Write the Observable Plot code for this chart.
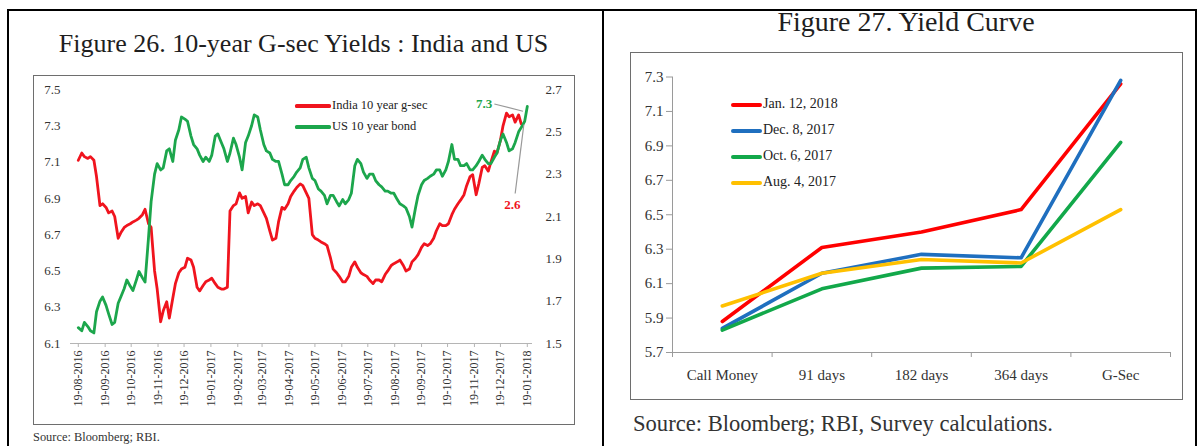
<!DOCTYPE html>
<html>
<head>
<meta charset="utf-8">
<script src="https://cdn.jsdelivr.net/npm/d3@7"></script>
<script src="https://cdn.jsdelivr.net/npm/@observablehq/plot@0.6"></script>
<style>
  html, body { margin: 0; padding: 0; background: #fff; }
  body { width: 1201px; height: 446px; position: relative; overflow: hidden; font-family: "Liberation Serif", serif; color: #222; }
  .bar { position: absolute; background: #000; }
  .frame { position: absolute; border: 1.5px solid #6e6e6e; box-sizing: border-box; }
  .title { position: absolute; line-height: 26px; white-space: nowrap; text-align: center; color: #1e1e1e; }
  .src { position: absolute; white-space: nowrap; color: #333; line-height: 1; }
  .sw { position: absolute; }
  .lg { position: absolute; white-space: nowrap; line-height: 1; color: #222; }
  svg.chart { position: absolute; overflow: visible; }
</style>
</head>
<body>
<div class="bar" style="left:7px;top:9px;width:1190px;height:2px"></div>
<div class="bar" style="left:7px;top:9px;width:2px;height:437px"></div>
<div class="bar" style="left:602px;top:9px;width:2px;height:437px"></div>
<div class="bar" style="left:1195px;top:9px;width:2px;height:437px"></div>

<div class="title" style="left:33px;top:31px;width:541px;font-size:26px">Figure 26. 10-year G-sec Yields : India and US</div>
<div class="title" style="left:630px;top:9px;width:552px;font-size:28px">Figure 27. Yield Curve</div>

<div class="frame" style="left:33px;top:75px;width:542px;height:350px"></div>
<div class="frame" style="left:630px;top:52px;width:553px;height:348px"></div>

<div class="src" style="left:33px;top:431px;font-size:12.4px">Source: Bloomberg; RBI.</div>
<div class="src" style="left:633px;top:413px;font-size:22.6px">Source: Bloomberg; RBI, Survey calculations.</div>

<div id="legendLeft"></div>
<div id="legendRight"></div>

<script>
// ---------- Figure 26 data (observations twice a week) ----------
const obsDates = [
  "2016-08-19","2016-08-23","2016-08-26","2016-08-30","2016-09-02","2016-09-06","2016-09-09","2016-09-13","2016-09-16","2016-09-20",
  "2016-09-23","2016-09-27","2016-09-30","2016-10-04","2016-10-07","2016-10-11","2016-10-14","2016-10-18","2016-10-21","2016-10-25",
  "2016-10-28","2016-11-01","2016-11-04","2016-11-08","2016-11-11","2016-11-15","2016-11-18","2016-11-22","2016-11-25","2016-11-29",
  "2016-12-02","2016-12-06","2016-12-09","2016-12-13","2016-12-16","2016-12-20","2016-12-23","2016-12-27","2016-12-30","2017-01-03",
  "2017-01-06","2017-01-10","2017-01-13","2017-01-17","2017-01-20","2017-01-24","2017-01-27","2017-01-31","2017-02-03","2017-02-07",
  "2017-02-10","2017-02-14","2017-02-17","2017-02-21","2017-02-24","2017-02-28","2017-03-03","2017-03-07","2017-03-10","2017-03-14",
  "2017-03-17","2017-03-21","2017-03-24","2017-03-28","2017-03-31","2017-04-04","2017-04-07","2017-04-11","2017-04-14","2017-04-18",
  "2017-04-21","2017-04-25","2017-04-28","2017-05-02","2017-05-05","2017-05-09","2017-05-12","2017-05-16","2017-05-19","2017-05-23",
  "2017-05-26","2017-05-30","2017-06-02","2017-06-06","2017-06-09","2017-06-13","2017-06-16","2017-06-20","2017-06-23","2017-06-27",
  "2017-06-30","2017-07-04","2017-07-07","2017-07-11","2017-07-14","2017-07-18","2017-07-21","2017-07-25","2017-07-28","2017-08-01",
  "2017-08-04","2017-08-08","2017-08-11","2017-08-15","2017-08-18","2017-08-22","2017-08-25","2017-08-29","2017-09-01","2017-09-05",
  "2017-09-08","2017-09-12","2017-09-15","2017-09-19","2017-09-22","2017-09-26","2017-09-29","2017-10-03","2017-10-06","2017-10-10",
  "2017-10-13","2017-10-17","2017-10-20","2017-10-24","2017-10-27","2017-10-31","2017-11-03","2017-11-07","2017-11-10","2017-11-14",
  "2017-11-17","2017-11-21","2017-11-24","2017-11-28","2017-12-01","2017-12-05","2017-12-08","2017-12-12","2017-12-15","2017-12-19",
  "2017-12-22","2017-12-26","2017-12-29","2018-01-02","2018-01-05","2018-01-09","2018-01-12","2018-01-16","2018-01-19"
];
// India 10 year g-sec (left axis), through 2018-01-12
const indiaYield = [
  7.11, 7.15, 7.13, 7.12, 7.13, 7.11, 7.02, 6.86, 6.87, 6.85,
  6.82, 6.83, 6.80, 6.68, 6.71, 6.74, 6.75, 6.76, 6.77, 6.78,
  6.79, 6.81, 6.84, 6.76, 6.74, 6.50, 6.40, 6.22, 6.28, 6.33,
  6.24, 6.35, 6.43, 6.49, 6.51, 6.52, 6.57, 6.56, 6.52, 6.41,
  6.39, 6.42, 6.44, 6.45, 6.46, 6.43, 6.41, 6.40, 6.40, 6.41,
  6.83, 6.86, 6.87, 6.93, 6.90, 6.91, 6.82, 6.88, 6.86, 6.87,
  6.86, 6.82, 6.79, 6.72, 6.67, 6.68, 6.77, 6.85, 6.84, 6.87,
  6.91, 6.94, 6.96, 6.98, 6.97, 6.93, 6.90, 6.70, 6.68, 6.67,
  6.66, 6.65, 6.64, 6.57, 6.51, 6.49, 6.47, 6.44, 6.44, 6.47,
  6.52, 6.55, 6.52, 6.49, 6.48, 6.47, 6.45, 6.43, 6.45, 6.45,
  6.44, 6.48, 6.50, 6.53, 6.54, 6.55, 6.56, 6.53, 6.50, 6.51,
  6.55, 6.57, 6.59, 6.63, 6.65, 6.64, 6.65, 6.68, 6.72, 6.76,
  6.75, 6.75, 6.76, 6.81, 6.84, 6.87, 6.89, 6.92, 6.97, 7.02,
  7.03, 6.92, 6.98, 7.07, 7.08, 7.05, 7.10, 7.16, 7.15, 7.22,
  7.30, 7.37, 7.35, 7.36, 7.32, 7.36, 7.31
];
// US 10 year bond (right axis), through 2018-01-19
const usYield = [
  1.575, 1.56, 1.60, 1.58, 1.56, 1.55, 1.65, 1.70, 1.72, 1.68,
  1.64, 1.59, 1.60, 1.69, 1.72, 1.76, 1.80, 1.77, 1.75, 1.80,
  1.84, 1.81, 1.79, 2.00, 2.17, 2.30, 2.35, 2.32, 2.33, 2.41,
  2.42, 2.36, 2.46, 2.51, 2.57, 2.56, 2.55, 2.48, 2.44, 2.42,
  2.39, 2.36, 2.38, 2.36, 2.39, 2.48, 2.49, 2.45, 2.42, 2.36,
  2.40, 2.47, 2.44, 2.38, 2.32, 2.45, 2.48, 2.53, 2.58, 2.57,
  2.51, 2.44, 2.41, 2.40, 2.37, 2.36, 2.36, 2.30, 2.25, 2.25,
  2.27, 2.29, 2.31, 2.33, 2.37, 2.38, 2.33, 2.28, 2.27, 2.23,
  2.22, 2.20, 2.16, 2.20, 2.20, 2.17, 2.15, 2.18, 2.16, 2.18,
  2.21, 2.34, 2.37, 2.35, 2.31, 2.28, 2.30, 2.30, 2.27, 2.25,
  2.24, 2.22, 2.22, 2.21, 2.21, 2.18, 2.16, 2.15, 2.14, 2.10,
  2.05, 2.14, 2.20, 2.25, 2.27, 2.28, 2.29, 2.30, 2.32, 2.32,
  2.29, 2.32, 2.36, 2.44, 2.37, 2.37, 2.34, 2.34, 2.35, 2.32,
  2.32, 2.34, 2.36, 2.39, 2.37, 2.35, 2.35, 2.38, 2.40, 2.46,
  2.49, 2.45, 2.41, 2.42, 2.45, 2.50, 2.52, 2.55, 2.62
];
const xTickLabels = [
  "19-08-2016","19-09-2016","19-10-2016","19-11-2016","19-12-2016","19-01-2017","19-02-2017","19-03-2017","19-04-2017",
  "19-05-2017","19-06-2017","19-07-2017","19-08-2017","19-09-2017","19-10-2017","19-11-2017","19-12-2017","19-01-2018"
];
const indiaTicks = [6.1, 6.3, 6.5, 6.7, 6.9, 7.1, 7.3, 7.5];
const usTicks = [1.5, 1.7, 1.9, 2.1, 2.3, 2.5, 2.7];
const seriesNames26 = ["India 10 year g-sec", "US 10 year bond"];
const colors26 = ["#f0141e", "#1ca64c"];

// ---------- Figure 27 data ----------
const tenors = ["Call Money", "91 days", "182 days", "364 days", "G-Sec"];
const curveNames = ["Jan. 12, 2018", "Dec. 8, 2017", "Oct. 6, 2017", "Aug. 4, 2017"];
const jan12_2018 = [5.88, 6.31, 6.40, 6.53, 7.26];
const dec8_2017  = [5.84, 6.16, 6.27, 6.25, 7.28];
const oct6_2017  = [5.83, 6.07, 6.19, 6.20, 6.92];
const aug4_2017  = [5.97, 6.16, 6.24, 6.22, 6.53];
const curveTicks = [5.7, 5.9, 6.1, 6.3, 6.5, 6.7, 6.9, 7.1, 7.3];
const colors27 = ["#ff0000", "#1f6fbf", "#12a84a", "#ffc000"];

// ---------- Figure 26 ----------
const parseTick = d3.utcParse("%d-%m-%Y");
const monthTicks = xTickLabels.map(parseTick);
const toLeft = d3.scaleLinear([usTicks[0], usTicks[usTicks.length - 1]], [indiaTicks[0], indiaTicks[indiaTicks.length - 1]]);
const india = indiaYield.map((v, i) => ({date: new Date(obsDates[i]), value: v}));
const us = usYield.map((v, i) => ({date: new Date(obsDates[i]), value: v}));
const lastIndia = india[india.length - 1];
const lastUS = us[us.length - 1];

const left = Plot.plot({
  width: 541, height: 348,
  marginLeft: 37, marginRight: 42, marginTop: 13, marginBottom: 81,
  style: {background: "none", fontFamily: "Liberation Serif", fontSize: "13px", color: "#333"},
  x: {type: "utc", domain: [new Date("2016-08-10"), new Date("2018-01-25")]},
  y: {domain: [indiaTicks[0], indiaTicks[indiaTicks.length - 1]]},
  marks: [
    Plot.ruleY([indiaTicks[0]], {stroke: "#b5b5b5"}),
    Plot.axisX({ticks: monthTicks, tickFormat: d3.utcFormat("%d-%m-%Y"), tickRotate: -90, tickSize: 4, tickPadding: 3, stroke: "#b5b5b5", fill: "#333", fontSize: 12, label: null}),
    Plot.axisY({anchor: "left", ticks: indiaTicks, tickFormat: d => d.toFixed(1), tickSize: 0, tickPadding: 10, fill: "#333", label: null}),
    Plot.axisY({anchor: "right", ticks: usTicks.map(toLeft), tickFormat: d => toLeft.invert(d).toFixed(1), tickSize: 0, tickPadding: 13, fill: "#333", label: null}),
    Plot.line(india, {x: "date", y: "value", stroke: colors26[0], strokeWidth: 2.8, strokeLinejoin: "round"}),
    Plot.line(us, {x: "date", y: d => toLeft(d.value), stroke: colors26[1], strokeWidth: 2.8, strokeLinejoin: "round"}),
    Plot.link([lastIndia], {x1: d => d3.utcDay.offset(d.date, -31), y1: d => d.value + 0.11, x2: d => d3.utcDay.offset(d.date, 2), y2: d => d.value + 0.07, stroke: "#999", strokeWidth: 1.2}),
    Plot.link([lastUS], {x1: d => d3.utcDay.offset(d.date, -14), y1: d => toLeft(d.value) - 0.48, x2: d => d3.utcDay.offset(d.date, -4), y2: d => toLeft(d.value) - 0.1, stroke: "#999", strokeWidth: 1.2}),
    Plot.text([lastIndia], {x: "date", y: "value", text: d => d.value.toFixed(1), dx: -29, dy: -20, textAnchor: "end", fill: colors26[1], fontSize: 13, fontWeight: "bold"}),
    Plot.text([lastUS], {x: "date", y: d => toLeft(d.value), text: d => d.value.toFixed(1), dx: -15, dy: 98, fill: colors26[0], fontSize: 13, fontWeight: "bold"})
  ]
});
left.classList.add("chart");
left.style.left = "33px"; left.style.top = "76px";
document.body.appendChild(left);

// ---------- Figure 27 ----------
const curves = [jan12_2018, dec8_2017, oct6_2017, aug4_2017];
const rows = curves.flatMap((vals, s) => vals.map((v, i) => ({series: curveNames[s], idx: i, value: v})));
const boundaries = tenors.map((_, i) => i - 0.5).concat([tenors.length - 0.5]);

const right = Plot.plot({
  width: 552, height: 347,
  marginLeft: 42, marginRight: 12, marginTop: 23.5, marginBottom: 48,
  style: {background: "none", fontFamily: "Liberation Serif", fontSize: "15px", color: "#333"},
  x: {domain: [-0.5, tenors.length - 0.5]},
  y: {domain: [curveTicks[0], curveTicks[curveTicks.length - 1]]},
  color: {domain: curveNames, range: colors27},
  marks: [
    Plot.ruleX([-0.5], {stroke: "#9a9a9a"}),
    Plot.ruleY([curveTicks[0]], {stroke: "#9a9a9a"}),
    Plot.axisY({ticks: curveTicks, tickFormat: d => d.toFixed(1), tickSize: 6, tickPadding: 3, stroke: "#9a9a9a", fill: "#333", label: null}),
    Plot.axisX({ticks: boundaries, tickFormat: () => "", tickSize: 5, stroke: "#9a9a9a", label: null}),
    Plot.axisX({ticks: tenors.map((_, i) => i), tickFormat: i => tenors[i], tickSize: 0, tickPadding: 17, fill: "#333", label: null}),
    Plot.line(rows, {x: "idx", y: "value", z: "series", stroke: "series", strokeWidth: 3.6, strokeLinejoin: "round"})
  ]
});
right.classList.add("chart");
right.style.left = "630px"; right.style.top = "53px";
document.body.appendChild(right);

// ---------- Legends (HTML) ----------
function addLegend(container, names, colors, x, y0, step, swW, swH, fontSize) {
  const el = document.getElementById(container);
  names.forEach((n, i) => {
    const cy = y0 + i * step;
    const sw = document.createElement("div");
    sw.className = "sw";
    sw.style.cssText = `left:${x}px;top:${cy - swH / 2}px;width:${swW}px;height:${swH}px;background:${colors[i]};border-radius:${swH/2}px`;
    el.appendChild(sw);
    const t = document.createElement("div");
    t.className = "lg";
    t.style.cssText = `left:${x + swW + 1}px;top:${cy - fontSize * 0.55}px;font-size:${fontSize}px`;
    t.textContent = n;
    el.appendChild(t);
  });
}
addLegend("legendLeft", seriesNames26, colors26, 295, 106, 21, 36, 3.2, 12.5);
addLegend("legendRight", curveNames, colors27, 731, 105, 26, 31, 4, 14);
</script>
</body>
</html>
